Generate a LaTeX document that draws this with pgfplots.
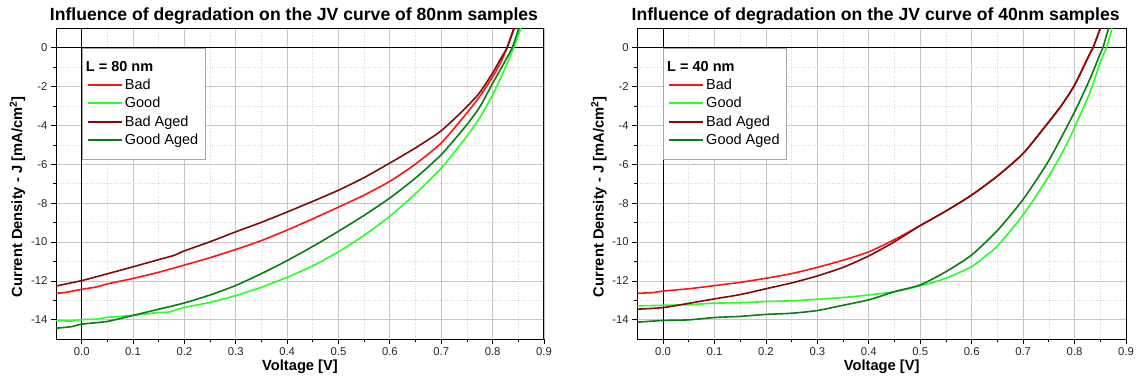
\documentclass[border=0pt]{standalone}
\usepackage{pgfplots}
\pgfplotsset{compat=1.18}
\usepackage{fontspec}
\setmainfont{Liberation Sans}
\definecolor{cbad}{RGB}{255,20,20}
\definecolor{cgood}{RGB}{40,255,40}
\definecolor{cbadaged}{RGB}{130,10,10}
\definecolor{cgoodaged}{RGB}{10,125,20}
\pgfplotsset{
  jv/.style={
    scale only axis, width=488pt, height=311pt,
    xmin=-0.05, xmax=0.9, ymin=-15, ymax=1,
    xtick={0,0.1,...,0.9}, minor x tick num=1,
    ytick={-14,-12,...,0}, minor y tick num=1,
    xticklabel style={/pgf/number format/.cd, fixed, fixed zerofill, precision=1},
    /pgf/number format/assume math mode=true,
    tick label style={font=\fontsize{11.3}{13}\selectfont, color=black!85},
    tick align=outside, tick pos=left,
    major tick length=5pt, minor tick length=3pt,
    every tick/.style={black, line width=0.8pt},
    axis line style={black, line width=1pt},
    grid=both,
    major grid style={gray!45, line width=0.8pt},
    minor grid style={gray!30, dotted, line width=0.7pt},
    xlabel={\textbf{Voltage [V]}},
    ylabel={\textbf{Current Density - J [mA/cm$^{\mathbf{2}}$]}},
    label style={font=\fontsize{14.7}{16}\selectfont},
    xlabel style={yshift=3pt},
    ylabel style={yshift=-1pt, xshift=-13pt},
    title style={font=\bfseries\fontsize{17.6}{19}\selectfont, yshift=-5pt, xshift=-6pt},
    legend style={at={(axis cs:0,0)}, anchor=north west, draw=gray!70, line width=0.8pt,
      fill=white, font=\fontsize{14.5}{16}\selectfont, inner xsep=5pt, inner ysep=11pt,
      row sep=2.3pt},
    legend cell align=left,
    legend image code/.code={\draw[#1, line width=1.8pt] (0pt,0pt) -- (34pt,0pt);},
    every axis plot/.append style={line width=1.6pt, no marks, smooth, tension=0.4},
  }
}
\begin{document}
\begin{tikzpicture}[x=1pt,y=1pt]
\path[use as bounding box] (0,0) rectangle (1137,385);
\begin{axis}[jv, at={(56pt,45.7pt)}, anchor=south west,
  title={Influence of degradation on the JV curve of 80nm samples}]
\draw[black, line width=1pt] (axis cs:0,-15) -- (axis cs:0,1);
\draw[black, line width=1pt] (axis cs:-0.05,0) -- (axis cs:0.9,0);
\addplot[cbad, forget plot] coordinates {(-0.05,-12.64) (-0.03,-12.58) (0,-12.43) (0.03,-12.3) (0.05,-12.15) (0.1,-11.87) (0.15,-11.55) (0.2,-11.18) (0.25,-10.8) (0.3,-10.38) (0.35,-9.92) (0.4,-9.38) (0.45,-8.8) (0.5,-8.2) (0.55,-7.58) (0.6,-6.87) (0.65,-5.98) (0.7,-4.9) (0.747,-3.45) (0.775,-2.5) (0.8,-1.5) (0.815,-0.8) (0.828,0) (0.841,1)};
\addplot[cgood, forget plot] coordinates {(-0.05,-14.04) (-0.02,-14.06) (0,-13.99) (0.03,-13.96) (0.05,-13.87) (0.1,-13.77) (0.15,-13.62) (0.17,-13.6) (0.2,-13.36) (0.25,-13.1) (0.3,-12.75) (0.35,-12.32) (0.4,-11.81) (0.45,-11.22) (0.5,-10.5) (0.55,-9.65) (0.6,-8.67) (0.65,-7.5) (0.7,-6.19) (0.747,-4.65) (0.775,-3.6) (0.8,-2.43) (0.82,-1.3) (0.841,0) (0.855,1)};
\addplot[cbadaged, forget plot] coordinates {(-0.05,-12.26) (0,-11.98) (0.05,-11.63) (0.1,-11.27) (0.15,-10.9) (0.18,-10.68) (0.2,-10.45) (0.25,-9.98) (0.3,-9.47) (0.35,-8.98) (0.4,-8.45) (0.45,-7.9) (0.5,-7.33) (0.55,-6.68) (0.6,-5.93) (0.65,-5.15) (0.7,-4.27) (0.747,-3.11) (0.775,-2.3) (0.8,-1.3) (0.815,-0.6) (0.828,0) (0.842,1)};
\addplot[cgoodaged, forget plot] coordinates {(-0.05,-14.43) (-0.02,-14.35) (0,-14.22) (0.05,-14.08) (0.1,-13.77) (0.15,-13.45) (0.2,-13.13) (0.25,-12.72) (0.3,-12.23) (0.35,-11.62) (0.4,-10.95) (0.45,-10.22) (0.5,-9.44) (0.55,-8.62) (0.6,-7.73) (0.65,-6.7) (0.7,-5.5) (0.747,-4.05) (0.775,-3.05) (0.8,-1.83) (0.82,-0.9) (0.838,0) (0.851,1)};
\addlegendimage{empty legend}
\addlegendentry{\hspace*{-39pt}\textbf{L = 80 nm}}
\addlegendimage{color=cbad}
\addlegendentry{Bad}
\addlegendimage{color=cgood}
\addlegendentry{Good}
\addlegendimage{color=cbadaged}
\addlegendentry{Bad Aged}
\addlegendimage{color=cgoodaged}
\addlegendentry{Good Aged}
\end{axis}
\begin{axis}[jv, at={(637.3pt,45.7pt)}, anchor=south west, width=488.7pt,
  title={Influence of degradation on the JV curve of 40nm samples}]
\draw[black, line width=1pt] (axis cs:0,-15) -- (axis cs:0,1);
\draw[black, line width=1pt] (axis cs:-0.05,0) -- (axis cs:0.9,0);
\addplot[cbad, forget plot] coordinates {(-0.05,-12.63) (-0.02,-12.6) (0,-12.52) (0.05,-12.4) (0.1,-12.24) (0.15,-12.07) (0.2,-11.86) (0.25,-11.62) (0.3,-11.3) (0.35,-10.93) (0.4,-10.5) (0.45,-9.87) (0.5,-9.15) (0.55,-8.4) (0.6,-7.58) (0.65,-6.6) (0.7,-5.44) (0.745,-3.98) (0.775,-2.95) (0.8,-1.92) (0.83,-0.29) (0.836,0) (0.85,1)};
\addplot[cgood, forget plot] coordinates {(-0.05,-13.28) (0,-13.25) (0.05,-13.22) (0.1,-13.14) (0.15,-13.12) (0.2,-13.06) (0.25,-13.02) (0.3,-12.94) (0.35,-12.85) (0.4,-12.72) (0.45,-12.55) (0.5,-12.25) (0.55,-11.86) (0.6,-11.26) (0.629,-10.67) (0.65,-10.2) (0.7,-8.6) (0.75,-6.6) (0.78,-5.2) (0.8,-4.1) (0.83,-2.3) (0.85,-0.75) (0.862,0) (0.873,1)};
\addplot[cbadaged, forget plot] coordinates {(-0.05,-13.45) (0,-13.37) (0.05,-13.15) (0.1,-12.92) (0.15,-12.7) (0.2,-12.4) (0.25,-12.1) (0.3,-11.74) (0.35,-11.3) (0.4,-10.71) (0.45,-9.98) (0.5,-9.15) (0.55,-8.4) (0.6,-7.58) (0.65,-6.6) (0.7,-5.44) (0.745,-3.98) (0.775,-2.95) (0.8,-1.92) (0.83,-0.29) (0.836,0) (0.85,1)};
\addplot[cgoodaged, forget plot] coordinates {(-0.05,-14.12) (0,-14.03) (0.05,-14.0) (0.1,-13.88) (0.15,-13.82) (0.2,-13.72) (0.25,-13.66) (0.3,-13.52) (0.35,-13.25) (0.4,-12.97) (0.45,-12.55) (0.5,-12.2) (0.55,-11.52) (0.6,-10.66) (0.65,-9.4) (0.7,-7.8) (0.75,-5.8) (0.8,-3.3) (0.83,-1.6) (0.85,-0.3) (0.855,0) (0.866,1)};
\addlegendimage{empty legend}
\addlegendentry{\hspace*{-39pt}\textbf{L = 40 nm}}
\addlegendimage{color=cbad}
\addlegendentry{Bad}
\addlegendimage{color=cgood}
\addlegendentry{Good}
\addlegendimage{color=cbadaged}
\addlegendentry{Bad Aged}
\addlegendimage{color=cgoodaged}
\addlegendentry{Good Aged}
\end{axis}
\end{tikzpicture}
\end{document}
